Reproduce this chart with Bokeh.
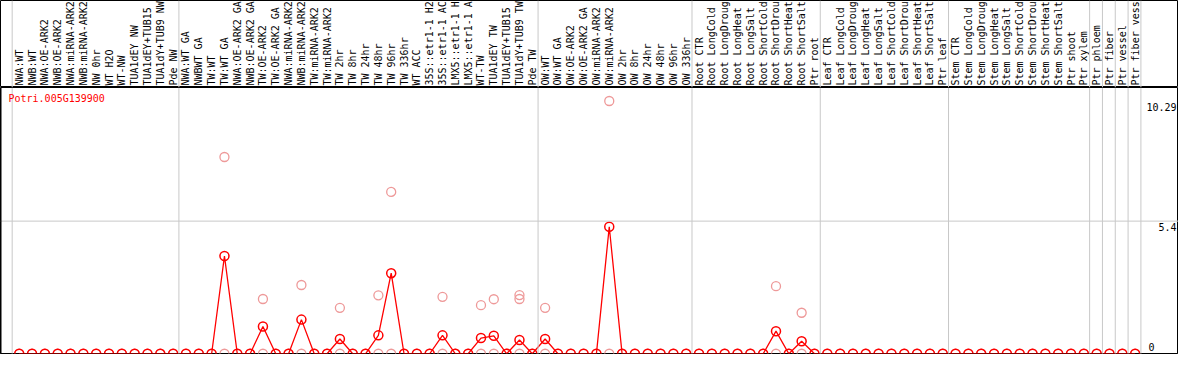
import math
from bokeh.plotting import figure
from bokeh.models import ColumnDataSource, Span, Label, Range1d
from bokeh.layouts import column
from bokeh.core.properties import value
from bokeh.embed import file_html
from bokeh.resources import INLINE

gene = "Potri.005G139900"

samples = [
    "NWA:WT", "NWB:WT", "NWA:OE-ARK2", "NWB:OE-ARK2", "NWA:miRNA-ARK2", "NWB:miRNA-ARK2",
    "NW 0hr", "WT H2O", "WT-NW", "TUA1dEY NW", "TUA1dEY+TUB15 NW", "TUA1dY+TUB9 NW", "Pde NW",
    "NWA:WT GA", "NWBWT GA", "TW:WT", "TW:WT GA", "NWA:OE-ARK2 GA", "NWB:OE-ARK2 GA",
    "TW:OE-ARK2", "TW:OE-ARK2 GA", "NWA:miRNA-ARK2", "NWB:miRNA-ARK2", "TW:miRNA-ARK2",
    "TW:miRNA-ARK2", "TW 2hr", "TW 8hr", "TW 24hr", "TW 48hr", "TW 96hr", "TW 336hr", "WT ACC",
    "35S::etr1-1 H2O", "35S::etr1-1 ACC", "LMX5::etr1-1 H2O", "LMX5::etr1-1 ACC", "WT-TW",
    "TUA1dEY TW", "TUA1dEY+TUB15 TW", "TUA1dY+TUB9 TW", "Pde TW",
    "OW:WT", "OW:WT GA", "OW:OE-ARK2", "OW:OE-ARK2 GA", "OW:miRNA-ARK2", "OW:miRNA-ARK2",
    "OW 2hr", "OW 8hr", "OW 24hr", "OW 48hr", "OW 96hr", "OW 336hr",
    "Root CTR", "Root LongCold", "Root LongDrought", "Root LongHeat", "Root LongSalt",
    "Root ShortCold", "Root ShortDrought", "Root ShortHeat", "Root ShortSalt", "Ptr root",
    "Leaf CTR", "Leaf LongCold", "Leaf LongDrought", "Leaf LongHeat", "Leaf LongSalt",
    "Leaf ShortCold", "Leaf ShortDrought", "Leaf ShortHeat", "Leaf ShortSalt", "Ptr leaf",
    "Stem CTR", "Stem LongCold", "Stem LongDrought", "Stem LongHeat", "Stem LongSalt",
    "Stem ShortCold", "Stem ShortDrought", "Stem ShortHeat", "Stem ShortSalt",
    "Ptr shoot", "Ptr xylem", "Ptr phloem", "Ptr fiber", "Ptr vessel", "Ptr fiber vessel",
]

means = [0.0] * 88
mean_updates = {
    17: 3.98, 20: 1.11, 23: 1.39, 26: 0.60, 29: 0.75, 30: 3.28, 34: 0.75,
    37: 0.64, 38: 0.73, 40: 0.56, 42: 0.60, 47: 5.17, 60: 0.92, 62: 0.51,
}
for k, v in mean_updates.items():
    means[k - 1] = v

# replicate values (sample number, value) that differ from zero
rep_sample = [17, 20, 23, 26, 29, 30, 34, 37, 38, 40, 40, 42, 47, 60, 62]
rep_value = [8.01, 2.23, 2.80, 1.87, 2.38, 6.59, 2.32, 1.98, 2.22, 2.39, 2.23, 1.87, 10.29, 2.75, 1.67]

# group separators (after sample number)
group_ends = [0, 13, 41, 53, 63, 73, 84, 85, 86, 87, 88]

y_ticks = [0, 5.4, 10.29]
y_tick_labels = ["0", "5.4", "10.29"]

W = 1178
H_HEAD = 87
H_PLOT = 267
FONT = value("DejaVu Sans Mono")
MAX_CHARS = 14  # header column only shows this many characters

pos = list(range(1, len(samples) + 1))
xr = Range1d(-0.46, 91.38)

# ---------- header with sample names ----------
head = figure(width=W, height=H_HEAD, x_range=xr, y_range=Range1d(0, 1),
              output_backend="svg", toolbar_location=None,
              x_axis_location=None, y_axis_location=None, min_border=0)
head.xgrid.visible = False
head.ygrid.visible = False
head.outline_line_color = "black"
head.outline_line_width = 1
head.background_fill_color = "white"
head.border_fill_color = "white"

for g in group_ends:
    head.add_layout(Span(location=g + 0.45, dimension="height",
                         line_color="#c8c8c8", line_width=1))

shown = [s[:MAX_CHARS] for s in samples]
hsrc = ColumnDataSource(dict(x=pos, y=[0.0] * len(pos), t=shown))
head.text(x="x", y="y", text="t", source=hsrc, angle=math.pi / 2,
          text_font=FONT, text_font_size="10px", text_color="black",
          text_align="left", text_baseline="middle", y_offset=-2)

# ---------- plot ----------
p = figure(width=W, height=H_PLOT, x_range=xr, y_range=Range1d(-0.03, 10.84),
           output_backend="svg", toolbar_location=None,
           x_axis_location=None, y_axis_location=None, min_border=0)
p.xgrid.visible = False
p.ygrid.visible = False
p.outline_line_color = "black"
p.outline_line_width = 1
p.background_fill_color = "white"
p.border_fill_color = "white"

for g in group_ends:
    p.add_layout(Span(location=g + 0.45, dimension="height",
                      line_color="#c8c8c8", line_width=1))
p.add_layout(Span(location=5.4, dimension="width", line_color="#c8c8c8", line_width=1))
p.add_layout(Span(location=-0.03, dimension="width", line_color="black", line_width=2))
p.add_layout(Span(location=-0.46, dimension="height", line_color="black", line_width=2))

# replicate points (pink)
zsrc = ColumnDataSource(dict(x=pos, y=[0.0] * len(pos)))
p.scatter(x="x", y="y", source=zsrc, marker="circle", size=9,
          fill_color=None, line_color="#EE9999", line_width=1.3)
rsrc = ColumnDataSource(dict(x=rep_sample, y=rep_value))
p.scatter(x="x", y="y", source=rsrc, marker="circle", size=9,
          fill_color=None, line_color="#EE9999", line_width=1.3)

# means (red line + circles)
msrc = ColumnDataSource(dict(x=pos, y=means))
p.line(x="x", y="y", source=msrc, line_color="red", line_width=1.3)
p.scatter(x="x", y="y", source=msrc, marker="circle", size=9,
          fill_color=None, line_color="red", line_width=1.5)

p.add_layout(Label(x=8, y=H_PLOT - 5, x_units="screen", y_units="screen",
                   text=gene, text_color="red", text_font="DejaVu Sans Mono",
                   text_font_size="10px", text_baseline="top", text_align="left"))

# value labels on the right
for v, t in zip(y_ticks, y_tick_labels):
    if v == 0:
        p.add_layout(Label(x=1148, y=v, x_units="screen", text=t, y_offset=3,
                           text_font="DejaVu Sans Mono", text_font_size="10px",
                           text_color="black", text_align="left", text_baseline="bottom"))
    else:
        p.add_layout(Label(x=1176, y=v, x_units="screen", text=t, y_offset=-2,
                           text_font="DejaVu Sans Mono", text_font_size="10px",
                           text_color="black", text_align="right", text_baseline="top"))

layout = column(head, p, spacing=0)
open("out.html", "w").write(file_html(layout, INLINE))
